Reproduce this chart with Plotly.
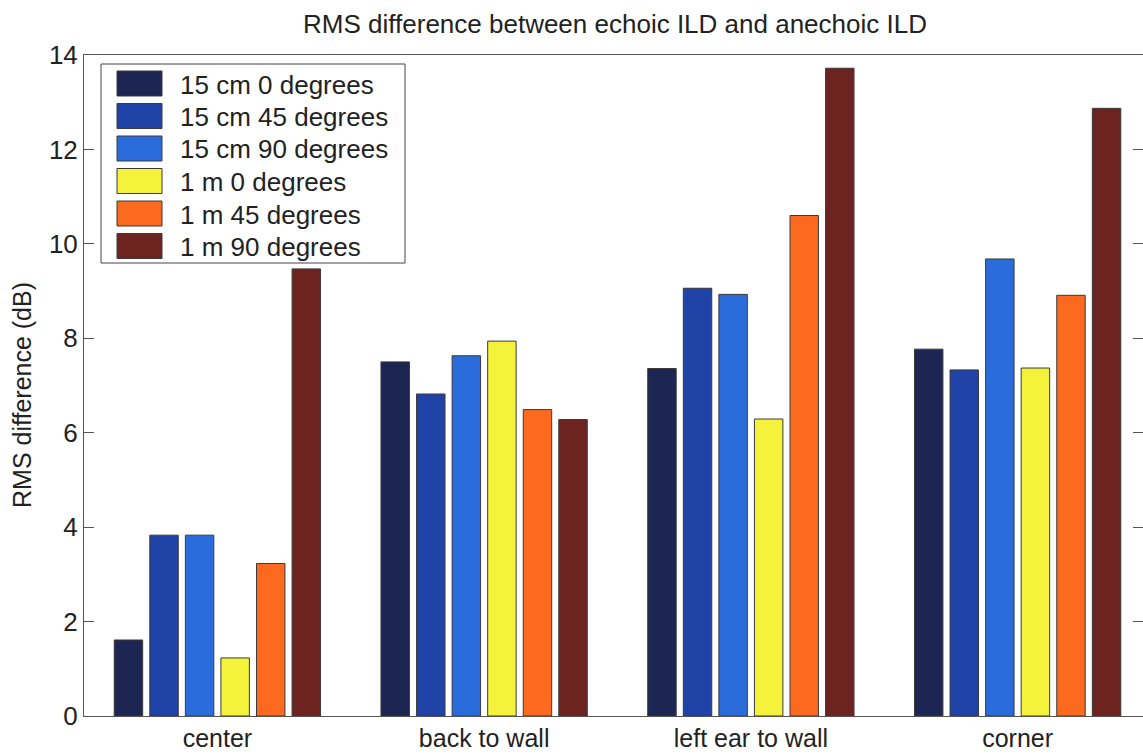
import plotly.graph_objects as go

# Measurement positions (x categories)
positions = ["center", "back to wall", "left ear to wall", "corner"]

# Source conditions (one bar series each)
series_names = [
    "15 cm 0 degrees",
    "15 cm 45 degrees",
    "15 cm 90 degrees",
    "1 m 0 degrees",
    "1 m 45 degrees",
    "1 m 90 degrees",
]

# RMS difference (dB) per condition, ordered as positions
cm15_deg0 = [1.61, 7.50, 7.36, 7.77]
cm15_deg45 = [3.83, 6.82, 9.06, 7.33]
cm15_deg90 = [3.83, 7.63, 8.93, 9.68]
m1_deg0 = [1.23, 7.94, 6.29, 7.37]
m1_deg45 = [3.23, 6.49, 10.60, 8.91]
m1_deg90 = [9.47, 6.28, 13.72, 12.87]

series_values = [cm15_deg0, cm15_deg45, cm15_deg90, m1_deg0, m1_deg45, m1_deg90]

colors = ["#1d2553", "#1f43a6", "#2a6cdc", "#f5f23c", "#fb6a1f", "#6d2421"]

y_ticks = [0, 2, 4, 6, 8, 10, 12, 14]

FONT = "Liberation Sans, Arial, sans-serif"
TXT = "#222222"

W, H = 1143, 756
ML, MT, MB, MR = 84, 55, 40, 0
PW, PH = W - ML - MR, H - MT - MB

x_idx = list(range(1, len(positions) + 1))

fig = go.Figure()
for name, vals, col in zip(series_names, series_values, colors):
    fig.add_trace(go.Bar(
        x=x_idx, y=vals, name=name,
        marker=dict(color=col, line=dict(color="#3a3a3a", width=1)),
        showlegend=False,
    ))


def px_x(px):
    return (px - ML) / PW


def px_y(py):
    return (H - MB - py) / PH


# Boxed legend with wide colour swatches
shapes = [dict(type="rect", xref="paper", yref="paper",
               x0=px_x(101), x1=px_x(405), y0=px_y(263), y1=px_y(64),
               line=dict(color="#444444", width=1), fillcolor="white", layer="above")]
annotations = []
for i, (name, col) in enumerate(zip(series_names, colors)):
    cy = 83.5 + 32.5 * i
    shapes.append(dict(type="rect", xref="paper", yref="paper",
                       x0=px_x(117), x1=px_x(162), y0=px_y(cy + 12.5), y1=px_y(cy - 12.5),
                       line=dict(color="#3a3a3a", width=1), fillcolor=col, layer="above"))
    annotations.append(dict(xref="paper", yref="paper", x=px_x(178), y=px_y(cy + 1),
                            text=name, showarrow=False, xanchor="left", yanchor="middle",
                            font=dict(family=FONT, size=26, color=TXT)))

# Y-axis title
annotations.append(dict(xref="paper", yref="paper", x=px_x(22), y=px_y(395),
                        text="RMS difference (dB)", textangle=-90, showarrow=False,
                        xanchor="center", yanchor="middle",
                        font=dict(family=FONT, size=25, color=TXT)))

fig.update_layout(
    width=W, height=H,
    margin=dict(l=ML, r=MR, t=MT, b=MB, pad=0, autoexpand=False),
    paper_bgcolor="white", plot_bgcolor="white",
    barmode="group", bargap=0.2, bargroupgap=0.2,
    font=dict(family=FONT, size=25, color=TXT),
    title=dict(text="RMS difference between echoic ILD and anechoic ILD",
               x=615 / W, xanchor="center",
               y=1 - 24 / H, yanchor="middle", yref="container",
               font=dict(family=FONT, size=26, color=TXT)),
    xaxis=dict(range=[0.5, 4.47], tickvals=x_idx, ticktext=positions,
               ticks="", showline=True, linecolor="#555555", linewidth=1,
               mirror=True, showgrid=False, zeroline=False, automargin=False,
               ticklabelstandoff=0,
               tickfont=dict(family=FONT, size=25, color=TXT)),
    yaxis=dict(range=[0, 14], tickvals=y_ticks, ticks="inside", ticklen=10,
               tickcolor="#555555", tickwidth=1, showline=True,
               linecolor="#555555", linewidth=1, mirror="ticks",
               showgrid=False, zeroline=False, automargin=False,
               tickfont=dict(family=FONT, size=26, color=TXT)),
    shapes=shapes,
    annotations=annotations,
)

fig.write_html("out.html")
